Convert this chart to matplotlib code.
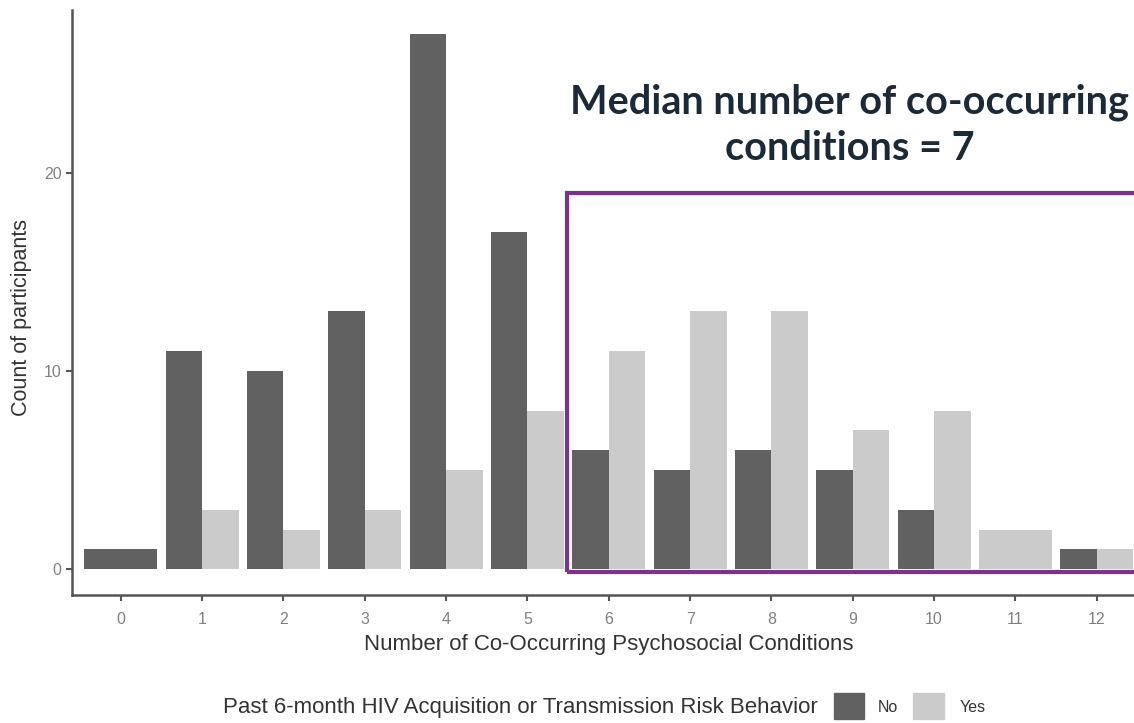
import numpy as np
import matplotlib
matplotlib.use("Agg")
import matplotlib.pyplot as plt
from matplotlib.patches import Rectangle

# counts per number of co-occurring conditions
conditions = list(range(13))
no_counts = [1, 11, 10, 13, 27, 17, 6, 5, 6, 5, 3, 0, 1]
yes_counts = [0, 3, 2, 3, 5, 8, 11, 13, 13, 7, 8, 2, 1]
yticks = [0, 10, 20]

dark = "#616161"
light = "#cbcbcb"

plt.rcParams['font.family'] = ['Liberation Sans', 'DejaVu Sans']

fig = plt.figure(figsize=(11.34, 7.23), dpi=100)
ax = fig.add_axes([0.0635, 0.177, 0.9467, 0.809])

# ggplot style dodge: single bar takes whole slot
for x, n, y in zip(conditions, no_counts, yes_counts):
    if n > 0 and y > 0:
        ax.bar(x - 0.225, n, width=0.45, color=dark)
        ax.bar(x + 0.225, y, width=0.45, color=light)
    elif n > 0:
        ax.bar(x, n, width=0.9, color=dark)
    else:
        ax.bar(x, y, width=0.9, color=light)

ax.set_xlim(-0.6, 12.6)
ax.set_ylim(-1.3, 28.2)
ax.set_xticks(conditions)
ax.set_yticks(yticks)
for s in ["top", "right"]:
    ax.spines[s].set_visible(False)
for s in ["left", "bottom"]:
    ax.spines[s].set_color("#555555")
    ax.spines[s].set_linewidth(1.8)
ax.tick_params(colors="#555555", labelcolor="#808080", labelsize=11.5, length=4, width=1.5)
ax.tick_params(axis="x", pad=8)

ax.set_xlabel("Number of Co-Occurring Psychosocial Conditions", fontsize=16, color="#333333", labelpad=5)
ax.set_ylabel("Count of participants", fontsize=15.5, color="#333333", labelpad=8)
ax.yaxis.set_label_coords(-0.037, 0.475)

# highlight box
ax.add_patch(Rectangle((5.49, -0.15), 8.0, 19.15, fill=False, edgecolor="#7e3290",
                       linewidth=3, clip_on=False, zorder=5))

ax.text(8.96, 22.4, "Median number of co-occurring\nconditions = 7", ha="center", va="center",
        fontsize=28.5, fontweight="bold", color="#1c2a37", linespacing=1.32,
        family=["Lato", "DejaVu Sans"])

# legend at bottom
fig.text(818 / 1134, 1 - 708 / 723, "Past 6-month HIV Acquisition or Transmission Risk Behavior",
         ha="right", va="center", fontsize=16, color="#333333")
fig.patches.append(Rectangle((834 / 1134, 1 - 719 / 723), 30 / 1134, 26 / 723,
                             transform=fig.transFigure, color=dark))
fig.text(878 / 1134, 1 - 708 / 723, "No", ha="left", va="center", fontsize=11.5, color="#333333")
fig.patches.append(Rectangle((913 / 1134, 1 - 719 / 723), 31 / 1134, 26 / 723,
                             transform=fig.transFigure, color=light))
fig.text(960 / 1134, 1 - 708 / 723, "Yes", ha="left", va="center", fontsize=11.5, color="#333333")

fig.savefig("out.png", dpi=100)
